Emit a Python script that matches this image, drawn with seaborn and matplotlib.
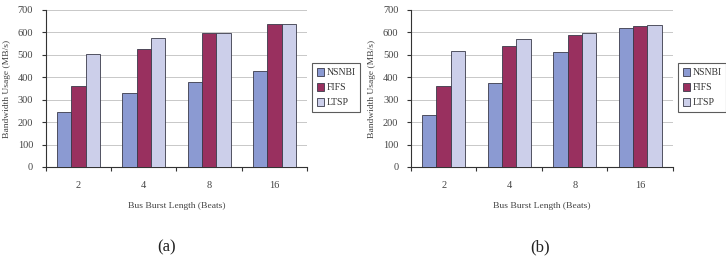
import numpy as np
import pandas as pd
import matplotlib
matplotlib.use("Agg")
import matplotlib.pyplot as plt
import seaborn as sns

# datos
bursts = ["2", "4", "8", "16"]
series = ["NSNBI", "FIFS", "LTSP"]
vals_a = {
    "NSNBI": [247, 331, 380, 428],
    "FIFS": [360, 526, 596, 635],
    "LTSP": [502, 574, 599, 635],
}
vals_b = {
    "NSNBI": [232, 375, 514, 621],
    "FIFS": [361, 537, 588, 628],
    "LTSP": [519, 570, 595, 631],
}
colores = ["#8B9AD2", "#99305F", "#CCCFEA"]
yticks = [0, 100, 200, 300, 400, 500, 600, 700]

sns.set_style("white")
plt.rcParams['font.family'] = ['Liberation Serif', 'DejaVu Serif']


def to_long(vals):
    filas = []
    for s in series:
        for b, v in zip(bursts, vals[s]):
            filas.append({"burst": b, "serie": s, "valor": v})
    return pd.DataFrame(filas)


fig = plt.figure(figsize=(7.26, 2.68), dpi=100)
pos = [[0.063, 0.377, 0.360, 0.586], [0.566, 0.377, 0.361, 0.586]]

for i, (vals, cap) in enumerate([(vals_a, "(a)"), (vals_b, "(b)")]):
    ax = fig.add_axes(pos[i])
    df = to_long(vals)
    sns.barplot(data=df, x="burst", y="valor", hue="serie", order=bursts,
                hue_order=series, palette=colores, width=0.66, saturation=1,
                edgecolor="#3a3a4a", linewidth=0.6, ax=ax, zorder=3)
    ax.set_ylim(0, 700)
    ax.set_xlim(-0.5, 3.5)
    ax.set_yticks(yticks)
    ax.yaxis.grid(True, color="#c8c8c8", linewidth=0.7, zorder=0)
    ax.set_axisbelow(True)
    for s in ["top", "right"]:
        ax.spines[s].set_visible(False)
    ax.spines["left"].set_color("#333333")
    ax.spines["bottom"].set_color("#333333")
    ax.spines["left"].set_linewidth(0.8)
    ax.spines["bottom"].set_linewidth(0.8)
    # ticks en los bordes de cada grupo
    ax.set_xticks([-0.5, 0.5, 1.5, 2.5, 3.5], minor=False)
    ax.set_xticklabels([])
    ax.set_xticks([0, 1, 2, 3], minor=True)
    ax.set_xticklabels(bursts, minor=True)
    ax.tick_params(axis="x", which="major", direction="out", length=3,
                   width=0.8, color="#333333", bottom=True)
    ax.tick_params(axis="x", which="minor", length=0, pad=10,
                   labelsize=7.5, labelcolor="#444444")
    ax.tick_params(axis="y", direction="out", length=3, width=0.8,
                   color="#333333", left=True, labelsize=7.5,
                   labelcolor="#444444", pad=6)
    ax.set_xlabel("Bus Burst Length (Beats)", fontsize=6.8, color="#444444",
                  labelpad=9)
    ax.set_ylabel("Bandwidth Usage (MB/s)", fontsize=6.8, color="#444444",
                  labelpad=5)
    leg = ax.legend(loc="center left", bbox_to_anchor=(1.02, 0.506),
                    fontsize=7, frameon=True, fancybox=False,
                    edgecolor="#333333", handlelength=0.8, handleheight=0.9,
                    handletextpad=0.25, borderpad=0.45, labelspacing=0.6,
                    borderaxespad=0)
    leg.get_frame().set_linewidth(0.8)
    for t in leg.get_texts():
        t.set_color("#333333")
    fig.text([167 / 726, 540 / 726][i], 1 - 247 / 268, cap, fontsize=12,
             ha="center", va="center", color="#222222")

fig.savefig("out.png", dpi=100)
